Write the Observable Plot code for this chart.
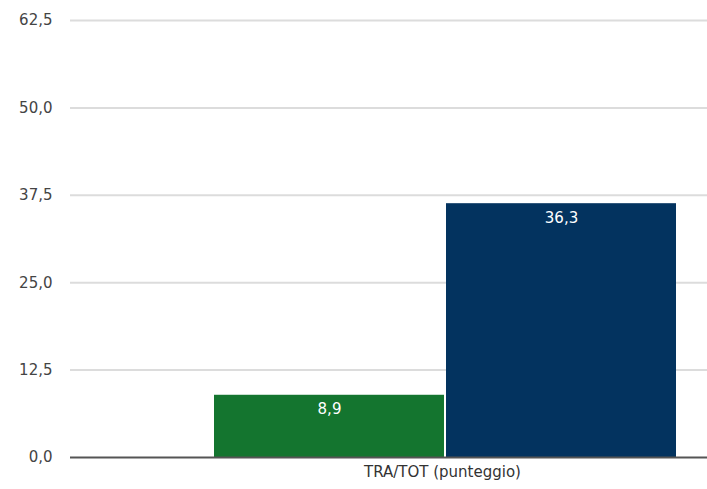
<!DOCTYPE html>
<html><head><meta charset="utf-8">
<script src="https://cdn.jsdelivr.net/npm/d3@7"></script>
<script src="https://cdn.jsdelivr.net/npm/@observablehq/plot@0.6"></script>
<style>body{margin:0;background:#fff}</style>
</head><body><div id="chart"></div>
<script>
const category = "TRA/TOT (punteggio)";
const series = ["Serie 1", "Serie 2"];
const values = [8.9, 36.3];
const colors = ["#14752f", "#03335f"];
const yTicks = [0, 12.5, 25, 37.5, 50, 62.5];

const it = d3.formatLocale({decimal: ",", thousands: ".", grouping: [3], currency: ["€", ""]});
const fmt = it.format(".1f");
const data = series.map((s, i) => ({series: s, value: values[i], category}));

const chart = Plot.plot({
  width: 707, height: 489,
  marginLeft: 70, marginRight: 0, marginTop: 20, marginBottom: 32,
  style: {fontFamily: "'DejaVu Sans', sans-serif", fontSize: "15px", background: "#fff"},
  x: {domain: series, range: [214, 676], paddingInner: 0.009, paddingOuter: 0, axis: null},
  y: {domain: [0, 62.5], ticks: yTicks, tickFormat: fmt, label: null},
  color: {domain: series, range: colors},
  marks: [
    Plot.ruleY(yTicks.filter(d => d > 0), {stroke: "#dcdcdc", strokeWidth: 2}),
    Plot.axisY({ticks: yTicks, tickFormat: fmt, tickSize: 0, tickPadding: 18, fill: "#444", fontSize: 15}),
    Plot.barY(data, {x: "series", y: "value", fill: "series"}),
    Plot.ruleY([0], {stroke: "#555", strokeWidth: 2}),
    Plot.text(data, {x: "series", y: "value", text: d => fmt(d.value), fill: "white", dy: 14, fontSize: 15}),
    Plot.text([category], {x: () => series[0], frameAnchor: "bottom", dx: 113, dy: 19, text: d => d, fill: "#333", fontSize: 15})
  ]
});
document.getElementById("chart").append(chart);
</script></body></html>
